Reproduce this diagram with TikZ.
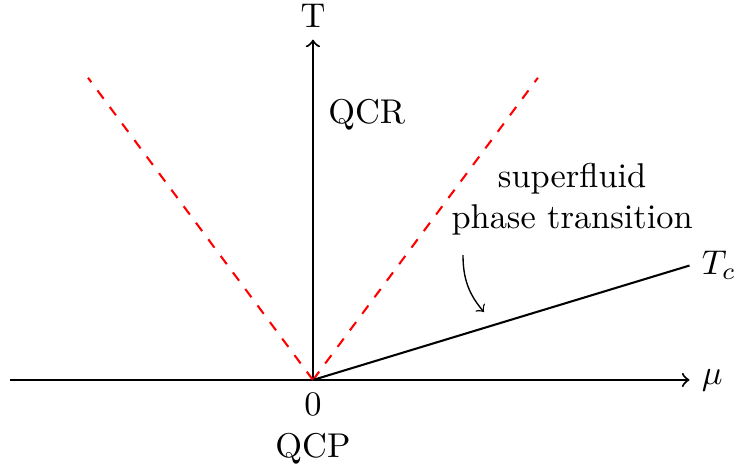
\documentclass[tikz,border=0pt]{standalone}
\usepackage{tikz}
\usetikzlibrary{positioning}
\tikzset{every picture/.style={line width=0.6pt}}

\begin{document}
\begin{tikzpicture}
    \useasboundingbox (-3.2,-0.93) rectangle (4.305,3.885);
    \coordinate (O) at (0,0);
    \coordinate (xl) at (-3.1,0);
    \coordinate (xr) at (3.85,0);
    \coordinate (yt) at (0,3.48);
    \coordinate (dl) at (-2.3,3.09);
    \coordinate (dr) at (2.3,3.09);
    \coordinate (tc) at (3.85,1.17);
    \draw[->] (xl) -- (xr);
    \draw[->] (O) -- (yt);
    \node[anchor=west] (mu) at (xr) {$\mu$};
    \node[anchor=south] (T) at (yt) {T};
    \draw[color=red, dashed] (O) -- (dl);
    \draw[color=red, dashed] (O) -- (dr);
    \draw (O) -- (tc);
    \node[anchor=west] (tclab) at (tc) {$T_c$};
    \node[anchor=north] (zero) at (O) {0};
    \node[below=-0.8mm of zero] (qcp) {QCP};
    \node[anchor=west] (qcr) at (0.03,2.71) {QCR};
    \node[align=center] (sf) at (2.65,1.85) {superfluid\\phase transition};
    \coordinate (arrs) at (1.534,1.277);
    \coordinate (arre) at (1.748,0.695);
    \draw[thin, ->] (arrs) to[bend right=20] (arre);
\end{tikzpicture}
\end{document}
